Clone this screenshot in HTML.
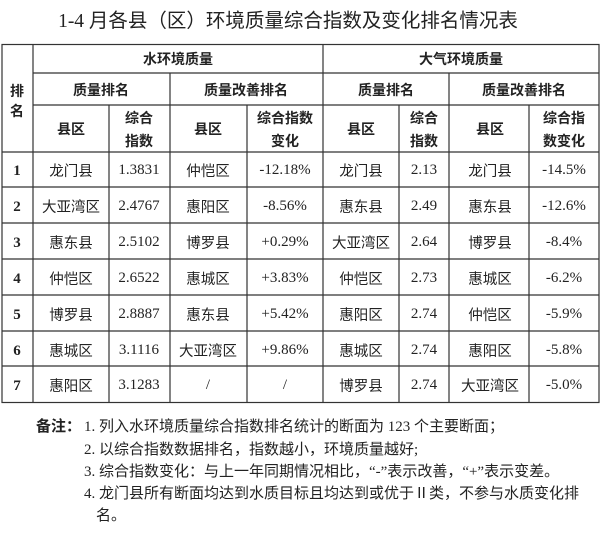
<!DOCTYPE html>
<html><head><meta charset="utf-8"><style>
body{margin:0;background:#fff;}
svg text{fill:#222;}
.h{font-family:"Liberation Sans","Noto Sans CJK SC",sans-serif;font-weight:bold;font-size:14px;}
.c{font-family:"Liberation Sans","Noto Sans CJK SC",sans-serif;font-size:14.5px;}
.n{font-family:"Liberation Serif","Noto Serif CJK SC",serif;font-size:15px;}
.r{font-family:"Liberation Serif",serif;font-weight:bold;font-size:15px;}
.t{font-family:"Liberation Serif","Noto Sans CJK SC",sans-serif;font-size:19.5px;}
.nt{font-family:"Liberation Serif","Noto Sans CJK SC",sans-serif;font-size:15px;}
</style></head><body>
<svg width="600" height="531" xmlns="http://www.w3.org/2000/svg">
<text class="t" x="288" y="27" text-anchor="middle">1-4 月各县（区）环境质量综合指数及变化排名情况表</text>
<g stroke="#333" stroke-width="1.2" fill="none">
<rect x="2" y="44.5" width="597" height="358"/>
<line x1="33" y1="44" x2="33" y2="402"/>
<line x1="33" y1="73" x2="599" y2="73"/>
<line x1="33" y1="105" x2="599" y2="105"/>
<line x1="2" y1="152" x2="599" y2="152"/>
<line x1="323" y1="44" x2="323" y2="402"/>
<line x1="170" y1="73" x2="170" y2="402"/>
<line x1="449" y1="73" x2="449" y2="402"/>
<line x1="109" y1="105" x2="109" y2="402"/>
<line x1="247" y1="105" x2="247" y2="402"/>
<line x1="399" y1="105" x2="399" y2="402"/>
<line x1="529" y1="105" x2="529" y2="402"/>
<line x1="2" y1="187" x2="599" y2="187"/>
<line x1="2" y1="223" x2="599" y2="223"/>
<line x1="2" y1="259" x2="599" y2="259"/>
<line x1="2" y1="295" x2="599" y2="295"/>
<line x1="2" y1="331" x2="599" y2="331"/>
<line x1="2" y1="366" x2="599" y2="366"/>
</g>
<g class="h" text-anchor="middle">
<text x="17" y="96">排</text><text x="17" y="116">名</text>
<text x="178" y="64">水环境质量</text><text x="461" y="64">大气环境质量</text>
<text x="101" y="95">质量排名</text><text x="246" y="95">质量改善排名</text>
<text x="386" y="95">质量排名</text><text x="524" y="95">质量改善排名</text>
<text x="71" y="134">县区</text><text x="139" y="123">综合</text><text x="139" y="146">指数</text>
<text x="208" y="134">县区</text><text x="285" y="123">综合指数</text><text x="285" y="146">变化</text>
<text x="361" y="134">县区</text><text x="424" y="123">综合</text><text x="424" y="146">指数</text>
<text x="490" y="134">县区</text><text x="564" y="123">综合指</text><text x="564" y="146">数变化</text>
</g>
<g text-anchor="middle">
<g class="r"><text x="17" y="175">1</text><text x="17" y="211">2</text><text x="17" y="247">3</text><text x="17" y="283">4</text><text x="17" y="319">5</text><text x="17" y="355">6</text><text x="17" y="390">7</text></g>
<g class="c">
<text x="71" y="176">龙门县</text><text x="208" y="176">仲恺区</text><text x="361" y="176">龙门县</text><text x="490" y="176">龙门县</text>
<text x="71" y="212">大亚湾区</text><text x="208" y="212">惠阳区</text><text x="361" y="212">惠东县</text><text x="490" y="212">惠东县</text>
<text x="71" y="248">惠东县</text><text x="208" y="248">博罗县</text><text x="361" y="248">大亚湾区</text><text x="490" y="248">博罗县</text>
<text x="71" y="284">仲恺区</text><text x="208" y="284">惠城区</text><text x="361" y="284">仲恺区</text><text x="490" y="284">惠城区</text>
<text x="71" y="320">博罗县</text><text x="208" y="320">惠东县</text><text x="361" y="320">惠阳区</text><text x="490" y="320">仲恺区</text>
<text x="71" y="356">惠城区</text><text x="208" y="356">大亚湾区</text><text x="361" y="356">惠城区</text><text x="490" y="356">惠阳区</text>
<text x="71" y="391">惠阳区</text><text x="361" y="391">博罗县</text><text x="490" y="391">大亚湾区</text>
</g>
<g class="n">
<text x="139" y="174">1.3831</text><text x="285" y="174">-12.18%</text><text x="424" y="174">2.13</text><text x="564" y="174">-14.5%</text>
<text x="139" y="210">2.4767</text><text x="285" y="210">-8.56%</text><text x="424" y="210">2.49</text><text x="564" y="210">-12.6%</text>
<text x="139" y="246">2.5102</text><text x="285" y="246">+0.29%</text><text x="424" y="246">2.64</text><text x="564" y="246">-8.4%</text>
<text x="139" y="282">2.6522</text><text x="285" y="282">+3.83%</text><text x="424" y="282">2.73</text><text x="564" y="282">-6.2%</text>
<text x="139" y="318">2.8887</text><text x="285" y="318">+5.42%</text><text x="424" y="318">2.74</text><text x="564" y="318">-5.9%</text>
<text x="139" y="354">3.1116</text><text x="285" y="354">+9.86%</text><text x="424" y="354">2.74</text><text x="564" y="354">-5.8%</text>
<text x="139" y="389">3.1283</text><text x="208" y="389">/</text><text x="285" y="389">/</text><text x="424" y="389">2.74</text><text x="564" y="389">-5.0%</text>
</g>
</g>
<g class="nt">
<text x="36" y="431" font-weight="bold">备注：</text>
<text x="84" y="431">1. 列入水环境质量综合指数排名统计的断面为 123 个主要断面；</text>
<text x="84" y="454">2. 以综合指数数据排名，指数越小，环境质量越好;</text>
<text x="84" y="476">3. 综合指数变化：与上一年同期情况相比，“-”表示改善，“+”表示变差。</text>
<text x="84" y="498">4. 龙门县所有断面均达到水质目标且均达到或优于Ⅱ类，不参与水质变化排</text>
<text x="96" y="520">名。</text>
</g>
</svg>
</body></html>
